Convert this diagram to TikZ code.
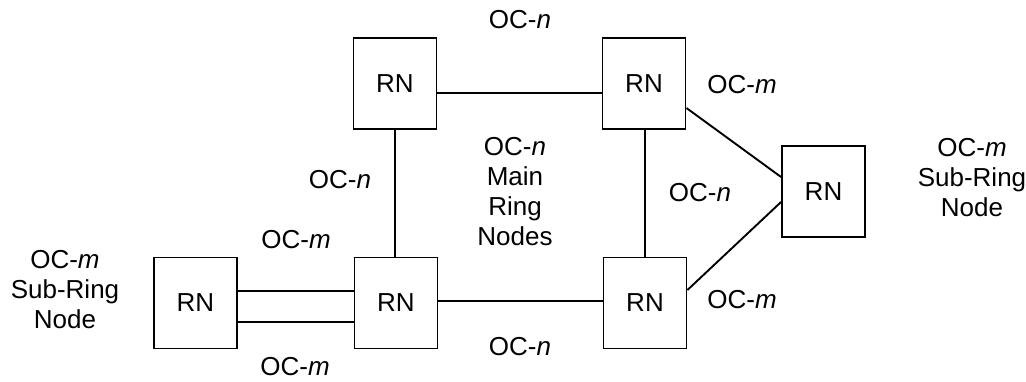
\documentclass[tikz,border=0pt]{standalone}
\usepackage{fontspec}
\setmainfont{Liberation Sans}
\begin{document}
\begin{tikzpicture}[x=1pt,y=-1pt,
  rn/.style={draw,line width=1.9pt,minimum width=83pt,minimum height=91pt,inner sep=0pt},
  lbl/.style={align=center,inner sep=0pt},
  link/.style={line width=1.9pt},
  every node/.style={font=\fontsize{26}{30}\selectfont}]
\useasboundingbox (0,0) rectangle (1026,381);
\node[rn] (TL) at (395,83.5) {RN};
\node[rn] (TR) at (644,83.5) {RN};
\node[rn] (R)  at (823.5,191.5) {RN};
\node[rn] (BL) at (195.5,303) {RN};
\node[rn] (BM) at (396,303) {RN};
\node[rn] (BR) at (645,303) {RN};
\draw[link] ([yshift=-9.5pt]TL.east) -- ([yshift=-9.5pt]TR.west);
\draw[link] (TL.south) -- (TL.south |- BM.north);
\draw[link] ([xshift=1pt]TR.south) -- ([xshift=1pt]TR.south |- BR.north);
\draw[link] ([yshift=2pt]BM.east) -- ([yshift=2pt]BR.west);
\draw[link] ([yshift=12pt]BL.east) -- ([yshift=12pt]BM.west);
\draw[link] ([yshift=-19pt]BL.east) -- ([yshift=-19pt]BM.west);
\draw[link] ([yshift=-24.5pt]TR.east) -- ([yshift=14.5pt]R.west);
\draw[link] ([yshift=-10.5pt]R.west) -- ([yshift=13pt]BR.east);
\node[lbl] (l1) at (520,20) {OC-\textit{n}};
\node[lbl] (l2) at (742,85) {OC-\textit{m}};
\node[lbl] (l3) at (340,180) {OC-\textit{n}};
\node[lbl] (l4) at (515,192) {OC-\textit{n}\\Main\\Ring\\Nodes};
\node[lbl] (l5) at (700,193) {OC-\textit{n}};
\node[lbl] (l6) at (972,178) {OC-\textit{m}\\Sub-Ring\\Node};
\node[lbl] (l7) at (296,240) {OC-\textit{m}};
\node[lbl] (l8) at (742,300) {OC-\textit{m}};
\node[lbl] (l9) at (65,290) {OC-\textit{m}\\Sub-Ring\\Node};
\node[lbl] (l10) at (520,347) {OC-\textit{n}};
\node[lbl] (l11) at (295,367) {OC-\textit{m}};
\end{tikzpicture}
\end{document}
